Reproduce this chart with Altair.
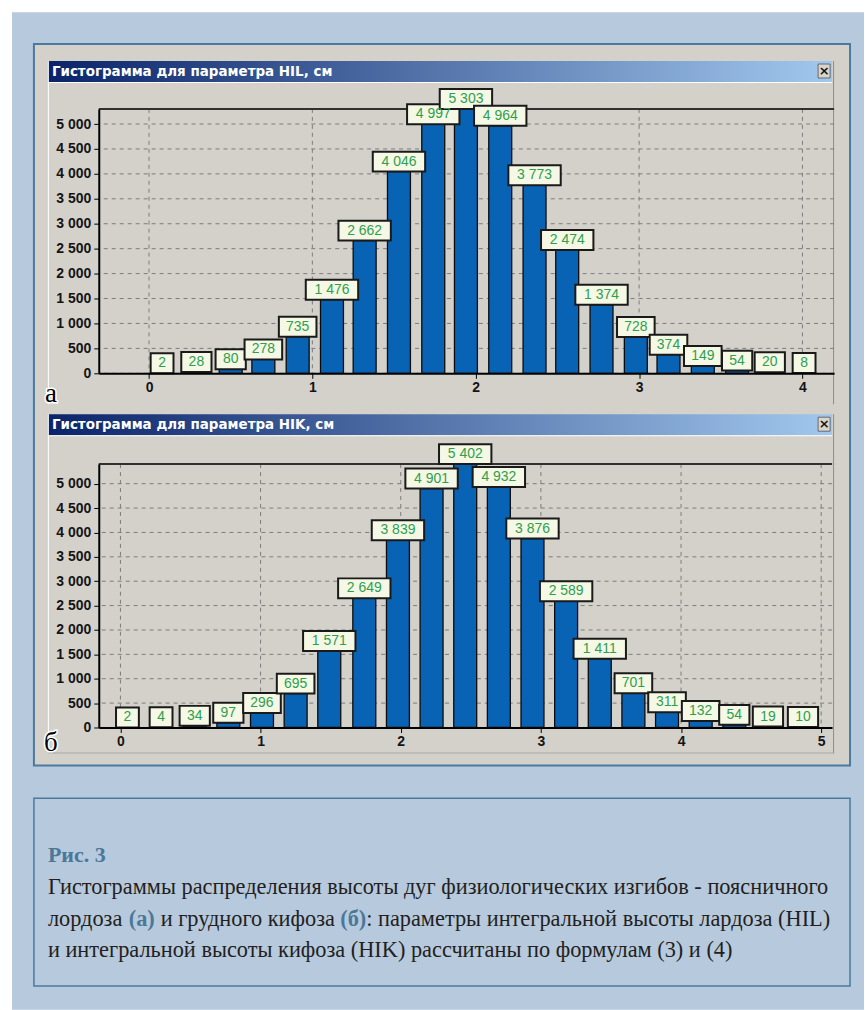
import altair as alt
import pandas as pd

# ---------------- data ----------------
HIL_BINS = [0.08, 0.29, 0.50, 0.70, 0.91, 1.12, 1.32, 1.53, 1.74, 1.94,
            2.15, 2.36, 2.56, 2.77, 2.98, 3.18, 3.39, 3.60, 3.80, 4.01]
HIL_COUNTS = [2, 28, 80, 278, 735, 1476, 2662, 4046, 4997, 5303,
              4964, 3773, 2474, 1374, 728, 374, 149, 54, 20, 8]
HIK_BINS = [0.05, 0.29, 0.53, 0.77, 1.01, 1.25, 1.49, 1.74, 1.98, 2.22, 2.46,
            2.70, 2.94, 3.18, 3.42, 3.66, 3.90, 4.14, 4.38, 4.62, 4.87]
HIK_COUNTS = [2, 4, 34, 97, 296, 695, 1571, 2649, 3839, 4901, 5402,
              4932, 3876, 2589, 1411, 701, 311, 132, 54, 19, 10]
Y_TICKS = [0, 500, 1000, 1500, 2000, 2500, 3000, 3500, 4000, 4500, 5000]
HIL_XTICKS = [0, 1, 2, 3, 4]
HIK_XTICKS = [0, 1, 2, 3, 4, 5]

TITLE_HIL = "Гистограмма для параметра HIL, см"
TITLE_HIK = "Гистограмма для параметра HIK, см"
CAP_HEAD = "Рис. 3"
CAP_L1 = "Гистограммы распределения высоты дуг физиологических изгибов - поясничного"
CAP_L2 = ["лордоза", "(а)", "и грудного кифоза", "(б)", ": параметры интегральной высоты лардоза (HIL)"]
CAP_L3 = "и интегральной высоты кифоза (HIK) рассчитаны по формулам (3) и (4)"

# ---------------- style ----------------
BLUE_BG = "#b7c9dd"
GREY = "#d4d1cb"
BORDER = "#4b7aa0"
BAR = "#0963b4"
BOX_FILL = "#f4f8e4"
GREEN = "#2f9e4f"
CAP_BLUE = "#4a7898"
BOX_H = 20

OX, OY = 98, 107  # page position of the first plot's origin
one = pd.DataFrame({"k": [0]})


def box(x0, y0, x1, y1, **kw):
    return alt.Chart(one).mark_rect(**kw).encode(
        x=alt.value(x0 - OX), x2=alt.value(x1 - OX),
        y=alt.value(y0 - OY), y2=alt.value(y1 - OY))


def label(x, y, text, **kw):
    kw.setdefault("align", "center")
    kw.setdefault("baseline", "middle")
    return alt.Chart(one).mark_text(text=text, **kw).encode(
        x=alt.value(x - OX), y=alt.value(y - OY))


grad = alt.LinearGradient(
    gradient="linear", x1=0, x2=1, y1=0, y2=0,
    stops=[alt.GradientStop(offset=0, color="#0a246a"),
           alt.GradientStop(offset=1, color="#a2c8ee")])


def window(top, bottom, title):
    return [
        box(47, top, 48, bottom, fill="white"),
        box(834, top, 835, bottom, fill="#8c8c8c"),
        box(48, top, 833, top + 21, fill=grad),
        box(48, top + 21, 833, top + 22, fill="white"),
        box(819, top + 3, 831, top + 17, fill="#d8d5cf", stroke="#505050", strokeWidth=0.8),
        label(825, top + 10, "×", font="DejaVu Sans", fontSize=13, fontWeight="bold", color="#111"),
        label(51, top + 11, title, align="left", font="DejaVu Sans", fontSize=13.5,
              fontWeight="bold", color="white"),
    ]


CAP_SIZE = 22.4
cap_font = dict(font="Liberation Serif", fontSize=CAP_SIZE, color="#231f20",
                align="left", baseline="alphabetic")
cap_blue = {**cap_font, "color": CAP_BLUE, "fontWeight": "bold"}

deco = [
    box(0, 0, 865, 1010, fill="white"),
    box(11, 10, 865, 1010, fill=BLUE_BG),
    box(33, 42, 851, 765, fill=GREY, stroke=BORDER, strokeWidth=2),
    *window(59, 403, TITLE_HIL),
    *window(413, 753, TITLE_HIK),
    box(47, 752, 835, 753, fill="#a8a8a8"),
    label(50, 393, "а", font="Liberation Serif", fontSize=27, color="white", stroke="white", strokeWidth=3),
    label(50, 393, "а", font="Liberation Serif", fontSize=27, color="black"),
    label(50, 743, "б", font="Liberation Serif", fontSize=27, color="white", stroke="white", strokeWidth=3),
    label(50, 743, "б", font="Liberation Serif", fontSize=27, color="black"),
    # caption
    box(33, 798, 851, 986, fill=BLUE_BG, stroke=BORDER, strokeWidth=1.5),
    label(47, 862, CAP_HEAD, font="Liberation Serif", fontSize=22, fontWeight="bold",
          color=CAP_BLUE, align="left", baseline="alphabetic"),
    label(47, 894, CAP_L1, **cap_font),
    label(47, 926, CAP_L2[0], **cap_font),
    label(128, 926, CAP_L2[1], **cap_blue),
    label(160, 926, CAP_L2[2], **cap_font),
    label(340, 926, CAP_L2[3], **cap_blue),
    label(366, 926, CAP_L2[4], **cap_font),
    label(47, 957, CAP_L3, **cap_font),
]

LABEL_EXPR = "replace(format(datum.value, ','), ',', ' ')"


def panel(xs, counts, xticks, xdom, ymax, W, H, extra):
    labs = [f"{c:,}".replace(",", " ") for c in counts]
    df = pd.DataFrame({"x": xs, "y": counts, "lab": labs})
    df["w"] = 15.5 + 7.4 * df["lab"].str.len()
    df["y2"] = df["y"] + BOX_H * ymax / H

    axis_common = dict(grid=False, zindex=1, title=None, domainColor="black", domainWidth=2,
                       tickColor="black", tickSize=5, tickWidth=1,
                       labelFont="Liberation Sans", labelFontSize=14, labelFontWeight="bold",
                       labelColor="#141414", labelOverlap=False, labelFlush=False, labelBound=False)
    X = alt.X("x:Q", scale=alt.Scale(domain=xdom, nice=False, zero=False),
              axis=alt.Axis(values=xticks, labelPadding=2, **axis_common))
    Y = alt.Y("y:Q", scale=alt.Scale(domain=[0, ymax], nice=False),
              axis=alt.Axis(values=Y_TICKS, labelExpr=LABEL_EXPR, labelPadding=3, **axis_common))

    grid_h = alt.Chart(pd.DataFrame({"y": Y_TICKS})).mark_rule(
        color="#7c7c7c", strokeWidth=1, strokeDash=[4, 4]).encode(y=Y)
    grid_v = alt.Chart(pd.DataFrame({"x": xticks})).mark_rule(
        color="#7c7c7c", strokeWidth=1, strokeDash=[4, 4]).encode(x=X)
    frame_top = alt.Chart(one).mark_rule(color="#303030", strokeWidth=2).encode(
        x=alt.value(0), x2=alt.value(W), y=alt.value(0))
    bars = alt.Chart(df).mark_bar(size=23, fill=BAR, stroke="#0b0b0b", strokeWidth=1.3).encode(x=X, y=Y)
    boxes = alt.Chart(df).mark_bar(fill=BOX_FILL, stroke="#1a1a1a", strokeWidth=2).encode(
        x=X, y=Y, y2="y2:Q", size=alt.Size("w:Q", scale=None))
    texts = alt.Chart(df).mark_text(dy=-BOX_H / 2, baseline="middle", font="Liberation Sans",
                                    fontSize=14, color=GREEN).encode(x=X, y=Y, text="lab:N")
    return alt.layer(*extra, grid_h, grid_v, frame_top, bars, boxes, texts).properties(width=W, height=H)


p1 = panel(HIL_BINS, HIL_COUNTS, HIL_XTICKS, [-0.277, 4.163], 5303, 737, 265, deco)
p2 = panel(HIK_BINS, HIK_COUNTS, HIK_XTICKS, [-0.119, 5.042], 5402, 735, 264, [])

chart = alt.vconcat(p1, p2, spacing=91, bounds="flush").properties(padding=0).configure(
    background="white").configure_view(stroke="transparent")

chart.save("out.html", embed_options={"renderer": "svg", "actions": False})
